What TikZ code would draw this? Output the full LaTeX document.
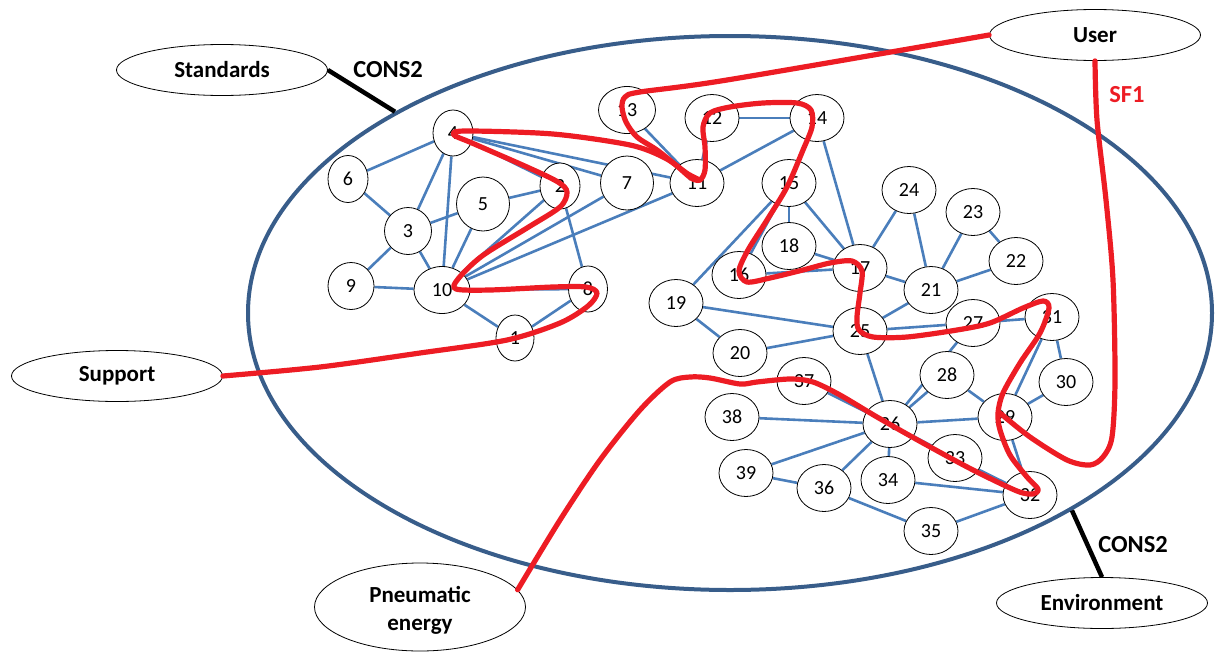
\documentclass[tikz,border=0pt]{standalone}
\usepackage{fontspec}
\setmainfont{Carlito}
\usetikzlibrary{shapes.geometric,backgrounds}
\definecolor{edgeblue}{RGB}{74,126,187}
\definecolor{sysblue}{RGB}{56,93,138}
\definecolor{flowred}{RGB}{237,28,36}
\begin{document}
\begin{tikzpicture}[x=1pt,y=-1pt,
 num/.style={ellipse,draw=black,line width=0.8pt,fill=white,minimum width=54pt,minimum height=47pt,inner sep=0pt,font=\fontsize{20}{20}\selectfont},
 ext/.style={ellipse,draw=black,line width=0.8pt,fill=white,minimum width=211pt,minimum height=51pt,inner sep=0pt,font=\fontsize{23}{28}\selectfont\bfseries,align=center},
 edge/.style={draw=edgeblue,line width=2.6pt},
 flow/.style={draw=flowred,line width=5.2pt,line cap=round,line join=round},
 cons/.style={draw=black,line width=4.5pt},
 lab/.style={font=\fontsize{24.5}{26}\selectfont\bfseries}]
\useasboundingbox (0,0) rectangle (1216,651);
% system boundary
\node[ellipse,draw=sysblue,line width=4pt,minimum width=964pt,minimum height=554pt,inner sep=0pt] (sys) at (730,313) {};
% numbered nodes
\node[num,minimum width=38pt,minimum height=46pt] (n1) at (515,338) {1};
\node[num,minimum width=40pt,minimum height=46pt] (n2) at (560,186) {2};
\node[num,minimum width=47pt,minimum height=47pt] (n3) at (408,231) {3};
\node[num,minimum width=40pt,minimum height=46pt] (n4) at (453,133) {4};
\node[num,minimum width=53pt,minimum height=54pt] (n5) at (483,204) {5};
\node[num,minimum width=40pt,minimum height=47pt] (n6) at (348,179) {6};
\node[num,minimum width=53pt,minimum height=54pt] (n7) at (627,183) {7};
\node[num,minimum width=39pt,minimum height=46pt] (n8) at (588,289) {8};
\node[num,minimum width=46pt,minimum height=47pt] (n9) at (351,286) {9};
\node[num,minimum width=56pt,minimum height=47pt] (n10) at (442,290) {10};
\node[num] (n11) at (697,183) {11};
\node[num] (n12) at (712,118) {12};
\node[num,minimum width=57pt] (n13) at (627,110) {13};
\node[num] (n14) at (817,118) {14};
\node[num] (n15) at (789,183) {15};
\node[num] (n16) at (739,275) {16};
\node[num] (n17) at (860,268) {17};
\node[num] (n18) at (789,246) {18};
\node[num] (n19) at (676,303) {19};
\node[num] (n20) at (740,353) {20};
\node[num] (n21) at (931,290) {21};
\node[num] (n22) at (1016,261) {22};
\node[num] (n23) at (973,212) {23};
\node[num] (n24) at (909,190) {24};
\node[num] (n25) at (860,331) {25};
\node[num] (n26) at (890,424) {26};
\node[num] (n27) at (973,323) {27};
\node[num] (n28) at (947,375) {28};
\node[num] (n29) at (1005,417) {29};
\node[num] (n30) at (1066,382) {30};
\node[num] (n31) at (1052,317) {31};
\node[num] (n32) at (1030,495) {32};
\node[num] (n33) at (955,458) {33};
\node[num] (n34) at (888,480) {34};
\node[num] (n35) at (931,531) {35};
\node[num] (n36) at (824,488) {36};
\node[num] (n37) at (804,381) {37};
\node[num] (n38) at (732,417) {38};
\node[num] (n39) at (746,473) {39};
% edges
\begin{pgfonlayer}{background}
\foreach \a/\b in {4/6,4/3,4/10,4/2,4/7,4/11,6/3,3/5,3/9,3/10,9/10,5/10,5/2,2/10,2/8,7/10,10/11,10/8,10/1,1/8,
 13/11,12/11,12/14,11/14,14/15,14/17,15/18,15/17,15/19,15/16,18/17,16/17,24/17,24/21,23/21,23/22,22/21,17/21,
 21/25,19/25,19/20,20/25,25/27,27/31,25/26,27/26,31/30,31/29,28/26,28/29,26/29,29/30,29/32,26/37,26/38,26/39,
 26/36,26/34,26/33,33/32,34/32,36/39,36/35,35/32}
  \draw[edge] (n\a) -- (n\b);
\end{pgfonlayer}
% external elements
\node[ext] (Standards) at (222,70) {Standards};
\node[ext] (User) at (1095,35) {User};
\node[ext] (Support) at (117,376) {Support};
\node[ext,minimum height=88pt] (Pneu) at (420,607) {};
\node[font=\fontsize{23}{28}\selectfont\bfseries,align=center] (PneuText) at (420,610) {Pneumatic\\energy};
\node[ext] (Env) at (1102,603) {Environment};
% constraints
\draw[cons] (Standards.east) -- (sys.149.3);
\draw[cons] (Env.north) -- (sys.330.6);
\node[lab] (c1) at (388,70) {CONS2};
\node[lab] (c2) at (1133,545) {CONS2};
\node[lab,text=flowred] (sf1) at (1127,95) {SF1};
% flow paths
\draw[flow] plot[smooth,tension=0.5] coordinates {(Support.east) (320,367) (420,353) (507,340) (560,323) (588,306) (597,293) (586,287) (553,287) (490,290) (456,289) (458,279) (482,256) (527,228) (560,207) (567,192) (558,182) (527,167) (472,143) (454,135) (465,131) (553,134) (630,145) (665,158) (688,174) (700,180)};
\draw[flow] plot[smooth,tension=0.5] coordinates {(User.west) (727,80) (640,92) (625,97) (622,107) (626,122) (637,137) (657,150) (677,166) (691,178) (700,180) (705,170) (705,147) (703,127) (710,113) (730,107) (763,103) (797,103) (811,110) (812,127) (803,150) (787,187) (767,220) (748,250) (739,271) (747,282) (770,278) (803,270) (830,263) (852,261) (862,271) (860,293) (857,317) (859,330) (873,337) (907,337) (957,330) (990,323) (1023,308) (1043,301) (1049,308) (1040,333) (1020,363) (1003,393) (998,413) (1000,430) (1010,455) (1027,477) (1038,489) (1033,494) (1017,491) (973,470) (923,443) (877,417) (840,395) (813,382) (790,379) (757,382) (740,384) (710,378) (690,377) (670,382) (640,410) (600,460) (560,520) (Pneu.10)};
\draw[flow] plot[smooth,tension=0.5] coordinates {(User.south) (1097,120) (1106,200) (1113,280) (1115,380) (1112,437) (1103,457) (1090,465) (1067,460) (1030,437) (1000,413)};
\end{tikzpicture}
\end{document}
